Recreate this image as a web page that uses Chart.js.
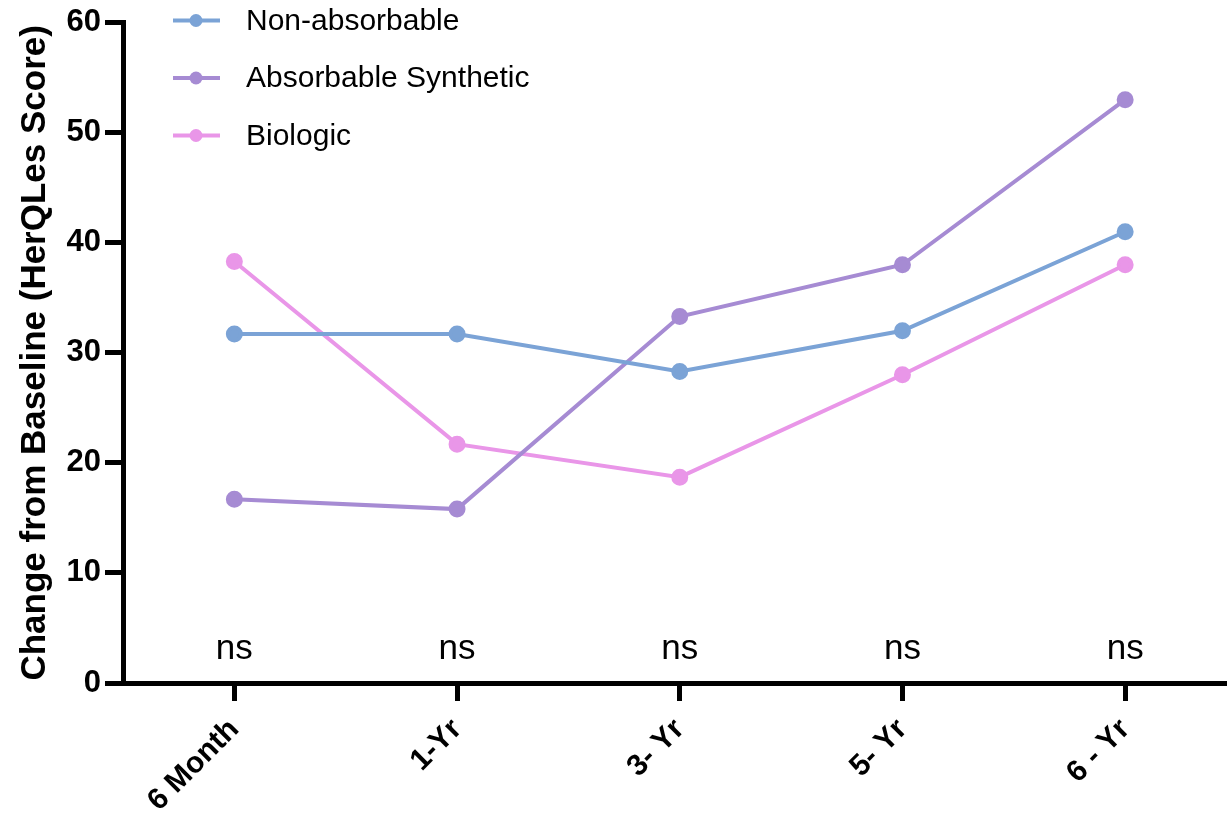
<!DOCTYPE html>
<html>
<head>
<meta charset="utf-8">
<script src="https://cdn.jsdelivr.net/npm/chart.js@4.4.0/dist/chart.umd.min.js"></script>
<style>
  html, body { margin: 0; padding: 0; background: #fff; overflow: hidden; }
  #wrap { width: 1227px; height: 818px; overflow: hidden; }
</style>
</head>
<body>
<div id="wrap"><canvas id="chart" width="1247" height="818"></canvas></div>
<script>
// Data
const categories = ["6 Month", "1-Yr", "3- Yr", "5- Yr", "6 - Yr"];
const nonAbsorbable = [31.7, 31.7, 28.3, 32.0, 41.0];
const absorbableSynthetic = [16.7, 15.8, 33.3, 38.0, 53.0];
const biologic = [38.3, 21.7, 18.7, 28.0, 38.0];
const significance = ["ns", "ns", "ns", "ns", "ns"];
const significanceLevel = 3.1;
const yMin = 0;
const yMax = 60;
const yStep = 10;

const FONT = "'Liberation Sans', Arial, Helvetica, sans-serif";

function makeDataset(label, values, color) {
  return {
    label: label,
    data: values,
    borderColor: color,
    backgroundColor: color,
    pointBackgroundColor: color,
    pointBorderColor: color,
    borderWidth: 4,
    pointRadius: 6.5,
    pointHoverRadius: 6.5,
    tension: 0,
  };
}

// Legend drawn like the original: short line with a dot, then the label
const lineLegend = {
  id: "lineLegend",
  afterDraw(chart) {
    const ctx = chart.ctx;
    ctx.save();
    ctx.font = "30px " + FONT;
    ctx.textBaseline = "middle";
    ctx.textAlign = "left";
    chart.data.datasets.forEach((ds, i) => {
      const y = 20.5 + i * 57.5;
      ctx.strokeStyle = ds.borderColor;
      ctx.lineWidth = 4;
      ctx.beginPath();
      ctx.moveTo(173, y);
      ctx.lineTo(220, y);
      ctx.stroke();
      ctx.fillStyle = ds.borderColor;
      ctx.beginPath();
      ctx.arc(196, y, 6.5, 0, Math.PI * 2);
      ctx.fill();
      ctx.fillStyle = "#000";
      ctx.fillText(ds.label, 246, y + 1);
    });
    ctx.restore();
  },
};

// "ns" labels above each time point
const sigLabels = {
  id: "sigLabels",
  afterDatasetsDraw(chart) {
    const ctx = chart.ctx;
    const x = chart.scales.x;
    const y = chart.scales.y;
    ctx.save();
    ctx.font = "35px " + FONT;
    ctx.fillStyle = "#000";
    ctx.textAlign = "center";
    ctx.textBaseline = "middle";
    significance.forEach((s, i) => {
      ctx.fillText(s, x.getPixelForValue(i), y.getPixelForValue(significanceLevel));
    });
    ctx.restore();
  },
};

const ctx = document.getElementById("chart").getContext("2d");

new Chart(ctx, {
  type: "line",
  data: {
    labels: categories,
    datasets: [
      makeDataset("Non-absorbable", nonAbsorbable, "#7ba3d6"),
      makeDataset("Absorbable Synthetic", absorbableSynthetic, "#a68bd3"),
      makeDataset("Biologic", biologic, "#e996e8"),
    ],
  },
  options: {
    responsive: false,
    animation: false,
    layout: { padding: { top: 21, left: 0, right: 0, bottom: 0 } },
    plugins: {
      legend: { display: false },
      tooltip: { enabled: false },
    },
    scales: {
      x: {
        type: "category",
        offset: true,
        afterFit(scale) {
          scale.height = 135;
        },
        grid: {
          offset: false,
          drawOnChartArea: false,
          drawTicks: true,
          tickLength: 18,
          tickWidth: 5,
          tickColor: "#000",
        },
        border: { display: true, color: "#000", width: 5 },
        ticks: {
          color: "#000",
          maxRotation: 45,
          minRotation: 45,
          padding: 11,
          font: { family: FONT, size: 30, weight: "bold" },
        },
      },
      y: {
        min: yMin,
        max: yMax,
        afterFit(scale) {
          scale.width = 123;
        },
        grid: {
          drawOnChartArea: false,
          drawTicks: true,
          tickLength: 18,
          tickWidth: 5,
          tickColor: "#000",
        },
        border: { display: true, color: "#000", width: 5 },
        ticks: {
          stepSize: yStep,
          color: "#000",
          padding: 4,
          font: { family: FONT, size: 31, weight: "bold" },
        },
        title: {
          display: true,
          text: "Change from Baseline (HerQLes Score)",
          color: "#000",
          padding: { top: 14, bottom: 0 },
          font: { family: FONT, size: 35, weight: "bold" },
        },
      },
    },
  },
  plugins: [sigLabels, lineLegend],
});
</script>
</body>
</html>
